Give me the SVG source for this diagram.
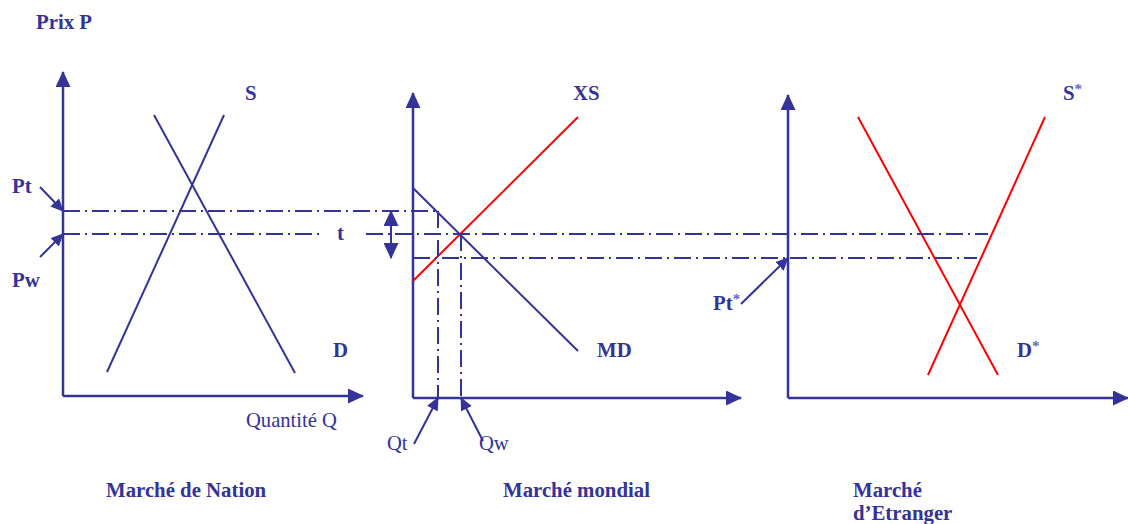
<svg xmlns="http://www.w3.org/2000/svg" width="1128" height="524" viewBox="0 0 1128 524">
<style>
.ax{stroke:#333399;stroke-width:2.5;fill:none}
.bl{stroke:#333399;stroke-width:2;fill:none}
.rd{stroke:#ff0000;stroke-width:2;fill:none}
.dd{stroke:#333399;stroke-width:2;fill:none;stroke-dasharray:17 5 2 5}
.pt{stroke:#333399;stroke-width:2;fill:none}
text{font-family:"Liberation Serif","Times New Roman",serif;font-size:20.6px;fill:#333399}
.b{font-weight:bold;font-size:20.8px}
.st{font-size:15px;fill:#6a6ab8}
</style>
<defs>
<marker id="ah" markerUnits="userSpaceOnUse" markerWidth="16" markerHeight="15" refX="15" refY="7.5" orient="auto-start-reverse" viewBox="0 0 16 15">
<path d="M0,0 L16,7.5 L0,15 z" fill="#333399"/>
</marker>
<marker id="ph" markerUnits="userSpaceOnUse" markerWidth="13" markerHeight="12" refX="12" refY="6" orient="auto" viewBox="0 0 13 12">
<path d="M0,0 L13,6 L0,12 z" fill="#333399"/>
</marker>
</defs>
<rect width="1128" height="524" fill="#ffffff"/>

<g id="panel-nation">
<text class="b" x="36" y="29">Prix P</text>
<line class="ax" x1="63" y1="396" x2="63" y2="72" marker-end="url(#ah)"/>
<line class="ax" x1="63" y1="396" x2="363" y2="396" marker-end="url(#ah)"/>
<g id="S"><line class="bl" x1="107" y1="372" x2="224" y2="115"/><text class="b" x="245" y="100">S</text></g>
<g id="D"><line class="bl" x1="154" y1="115" x2="295" y2="373"/><text class="b" x="333" y="357">D</text></g>
<text class="b" x="12" y="193">Pt</text>
<text class="b" x="12" y="287">Pw</text>
<text class="b" x="337" y="240">t</text>
<text x="246" y="427">Quantité Q</text>
<text class="b" x="106" y="497">Marché de Nation</text>
</g>

<g id="panel-mondial">
<line class="ax" x1="413" y1="398" x2="413" y2="93" marker-end="url(#ah)"/>
<line class="ax" x1="413" y1="398" x2="741" y2="398" marker-end="url(#ah)"/>
<g id="XS"><line class="rd" x1="413" y1="281" x2="578" y2="117"/><text class="b" x="573" y="100">XS</text></g>
<g id="MD"><line class="bl" x1="413" y1="188" x2="578" y2="351"/><text class="b" x="597" y="357">MD</text></g>
<text x="387" y="450">Qt</text>
<text x="479" y="450">Qw</text>
<text class="b" x="503" y="497">Marché mondial</text>
</g>

<g id="panel-etranger">
<line class="ax" x1="788" y1="398" x2="788" y2="95" marker-end="url(#ah)"/>
<line class="ax" x1="788" y1="398" x2="1128" y2="398" marker-end="url(#ah)"/>
<g id="Sstar"><line class="rd" x1="928" y1="375" x2="1045" y2="117"/><text class="b" x="1063" y="100">S<tspan class="st" dy="-6">*</tspan></text></g>
<g id="Dstar"><line class="rd" x1="858" y1="117" x2="998" y2="375"/><text class="b" x="1017" y="357">D<tspan class="st" dy="-6">*</tspan></text></g>
<text class="b" x="713" y="310">Pt<tspan class="st" dy="-6">*</tspan></text>
<text class="b" x="853" y="497">Marché</text>
<text class="b" x="853" y="520">d’Etranger</text>
</g>

<g id="connectors">
<line class="dd" x1="63" y1="211" x2="438" y2="211"/>
<line class="dd" x1="63" y1="234" x2="320" y2="234"/>
<line class="dd" x1="366" y1="234" x2="988" y2="234"/>
<line class="dd" x1="413" y1="258" x2="977" y2="258"/>
<line class="dd" x1="438" y1="211" x2="438" y2="398"/>
<line class="dd" x1="461" y1="234" x2="461" y2="398"/>
<line class="bl" x1="391" y1="211" x2="391" y2="258" marker-start="url(#ah)" marker-end="url(#ah)"/>
<line class="pt" x1="40" y1="187" x2="63" y2="211" marker-end="url(#ph)"/>
<line class="pt" x1="40" y1="257" x2="63" y2="234" marker-end="url(#ph)"/>
<line class="pt" x1="414" y1="444" x2="438" y2="398" marker-end="url(#ph)"/>
<line class="pt" x1="483" y1="441" x2="461" y2="398" marker-end="url(#ph)"/>
<line class="pt" x1="741" y1="304" x2="788" y2="258" marker-end="url(#ph)"/>
</g>
</svg>
